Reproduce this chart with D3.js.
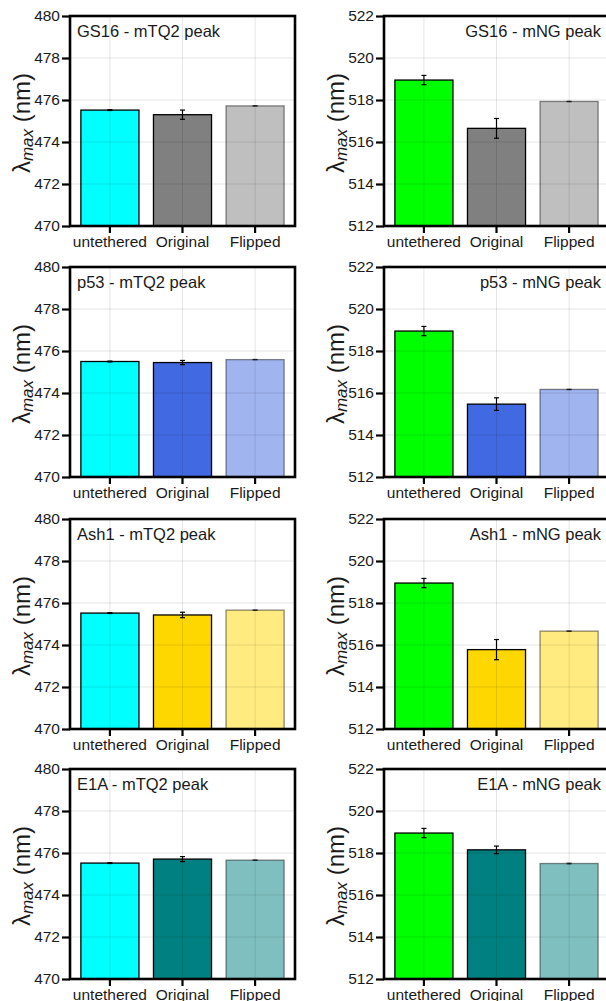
<!DOCTYPE html>
<html lang="en">
<head>
<meta charset="UTF-8">
<title>lambda max bars</title>
<script src="https://d3js.org/d3.v7.min.js"></script>
<style>
  html, body { margin: 0; padding: 0; background: #fff; }
  svg text { font-family: "Liberation Sans", Arial, sans-serif; fill: #1a1a1a; }
</style>
</head>
<body>
<script>
// data
const categories = ["untethered", "Original", "Flipped"];
const constructs = ["GS16", "p53", "Ash1", "E1A"];
const constructColors = ["#808080", "#4169e1", "#ffd700", "#008080"];

const tq2Means = [[475.52, 475.30, 475.72], [475.50, 475.45, 475.59], [475.52, 475.43, 475.66], [475.52, 475.71, 475.66]];
const tq2Errs  = [[0.02, 0.22, 0.01], [0.02, 0.10, 0.01], [0.02, 0.13, 0.01], [0.02, 0.12, 0.01]];
const ngMeans  = [[518.95, 516.65, 517.93], [518.95, 515.47, 516.17], [518.95, 515.78, 516.66], [518.95, 518.15, 517.50]];
const ngErrs   = [[0.22, 0.47, 0.01], [0.22, 0.30, 0.01], [0.22, 0.48, 0.01], [0.22, 0.18, 0.02]];

const tq2Ticks = [470, 472, 474, 476, 478, 480];
const ngTicks = [512, 514, 516, 518, 520, 522];

const W = 606, H = 1001;
const rowTops = [16, 267, 519, 769];
const colLefts = [70, 384];
const pw = 225, ph = 210;

const svg = d3.select("body").append("svg")
    .attr("width", W)
    .attr("height", H);

function panel(col, row) {
    const isNG = col === 1;
    const means = isNG ? ngMeans[row] : tq2Means[row];
    const errs = isNG ? ngErrs[row] : tq2Errs[row];
    const ticks = isNG ? ngTicks : tq2Ticks;
    const baseColor = isNG ? "#00ff00" : "#00ffff";
    const label = constructs[row] + (isNG ? " - mNG peak" : " - mTQ2 peak");

    const g = svg.append("g")
        .attr("transform", `translate(${colLefts[col]},${rowTops[row]})`);

    const x = d3.scaleBand().domain(categories).range([0, pw])
        .paddingInner(0.2).paddingOuter(0.15);
    const y = d3.scaleLinear().domain([ticks[0], ticks[ticks.length - 1]]).range([ph, 0]);

    const rows = categories.map((c, i) => ({ cat: c, mean: means[i], err: errs[i], i: i }));

    // bars
    g.selectAll("rect.bar").data(rows).enter().append("rect")
        .attr("class", "bar")
        .attr("x", d => x(d.cat))
        .attr("width", x.bandwidth())
        .attr("y", d => y(d.mean))
        .attr("height", d => ph - y(d.mean))
        .attr("fill", d => d.i === 0 ? baseColor : constructColors[row])
        .attr("fill-opacity", d => d.i === 2 ? 0.5 : 1)
        .attr("stroke", "#000")
        .attr("stroke-opacity", d => d.i === 2 ? 0.45 : 1)
        .attr("stroke-width", 1.3);

    // grid on top, faint
    const grid = g.append("g").attr("stroke", "#000").attr("stroke-opacity", 0.1).attr("stroke-width", 1);
    grid.selectAll("line.h").data(ticks.slice(1, -1)).enter().append("line")
        .attr("x1", 0).attr("x2", pw)
        .attr("y1", d => y(d)).attr("y2", d => y(d));
    grid.selectAll("line.v").data(categories).enter().append("line")
        .attr("x1", d => x(d) + x.bandwidth() / 2).attr("x2", d => x(d) + x.bandwidth() / 2)
        .attr("y1", 0).attr("y2", ph);

    // error bars
    const eb = g.selectAll("g.err").data(rows).enter().append("g")
        .attr("stroke", "#000")
        .attr("stroke-opacity", d => d.i === 2 ? 0.6 : 1)
        .attr("stroke-width", 1.2);
    const cx = d => x(d.cat) + x.bandwidth() / 2;
    eb.append("line").attr("x1", cx).attr("x2", cx)
        .attr("y1", d => y(d.mean - d.err)).attr("y2", d => y(d.mean + d.err));
    eb.append("line").attr("x1", d => cx(d) - 2.5).attr("x2", d => cx(d) + 2.5)
        .attr("y1", d => y(d.mean + d.err)).attr("y2", d => y(d.mean + d.err));
    eb.append("line").attr("x1", d => cx(d) - 2.5).attr("x2", d => cx(d) + 2.5)
        .attr("y1", d => y(d.mean - d.err)).attr("y2", d => y(d.mean - d.err));

    // axes
    const ya = g.append("g").call(d3.axisLeft(y).tickValues(ticks).tickSize(8).tickSizeOuter(0).tickPadding(2));
    ya.select(".domain").remove();
    ya.selectAll(".tick line").attr("stroke", "#000").attr("stroke-width", 2.2);
    ya.selectAll(".tick text").attr("font-size", "15.5px").style("fill", "#1a1a1a");

    const xa = g.append("g").attr("transform", `translate(0,${ph})`)
        .call(d3.axisBottom(x).tickSize(7).tickSizeOuter(0).tickPadding(3));
    xa.select(".domain").remove();
    xa.selectAll(".tick line").attr("stroke", "#000").attr("stroke-width", 2.2);
    xa.selectAll(".tick text").attr("font-size", "15.5px").style("fill", "#1a1a1a");

    // frame
    g.append("rect")
        .attr("x", 0).attr("y", 0).attr("width", pw).attr("height", ph)
        .attr("fill", "none").attr("stroke", "#000").attr("stroke-width", 2.6);

    // panel title
    g.append("text")
        .attr("x", isNG ? pw - 8 : 7)
        .attr("y", 21)
        .attr("text-anchor", isNG ? "end" : "start")
        .attr("font-size", "16.5px")
        .text(label);

    // y title
    const yt = g.append("text")
        .attr("transform", `translate(-40,${ph / 2 + 2}) rotate(-90)`)
        .attr("text-anchor", "middle")
        .attr("font-size", "24px");
    yt.append("tspan").text("λ");
    yt.append("tspan").attr("font-size", "17px").attr("font-style", "italic").attr("dy", 3).text("max");
    yt.append("tspan").attr("dy", -3).text(" (nm)");
}

for (let r = 0; r < 4; r++) {
    panel(0, r);
    panel(1, r);
}
</script>
</body>
</html>
